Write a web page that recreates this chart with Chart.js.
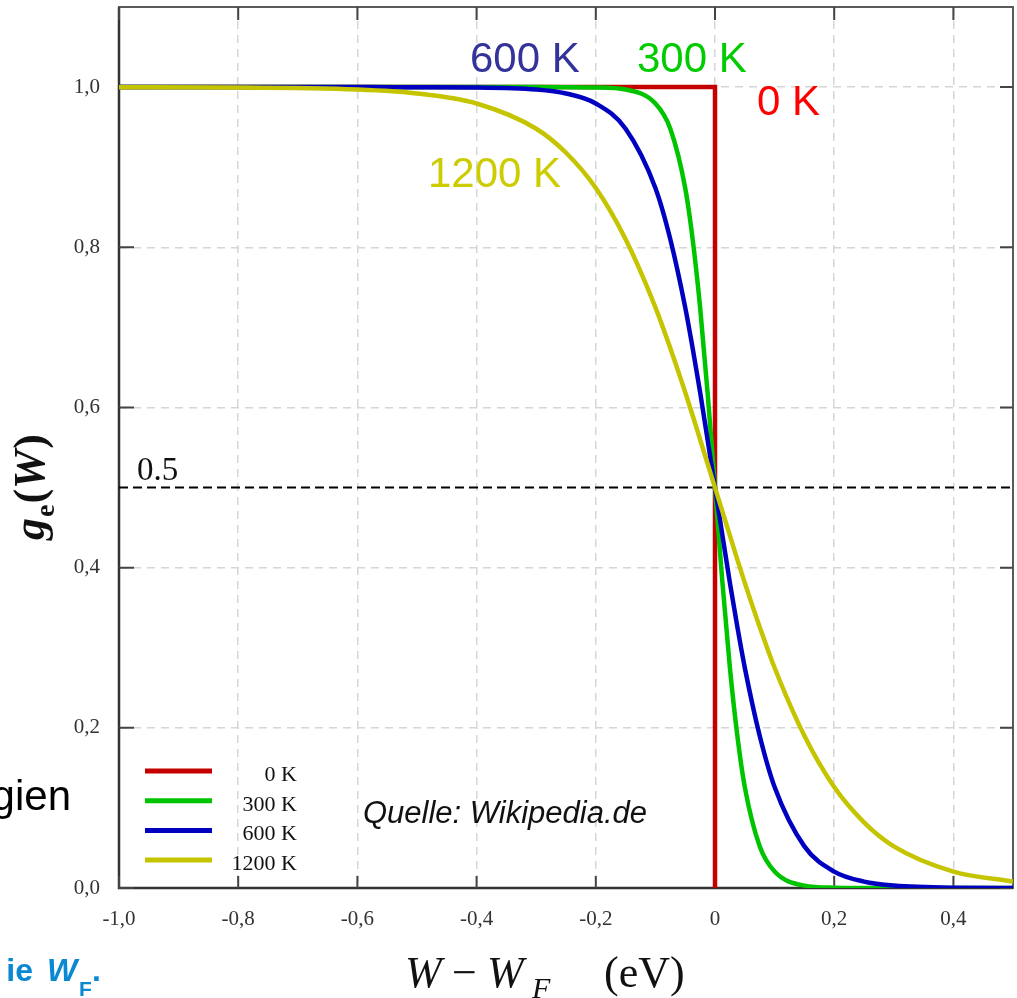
<!DOCTYPE html>
<html>
<head>
<meta charset="utf-8">
<script src="https://cdn.jsdelivr.net/npm/chart.js@4.4.1/dist/chart.umd.min.js"></script>
<style>
  html, body { margin: 0; padding: 0; background: #fff; }
  #wrap { position: relative; width: 1017px; height: 998px; }
</style>
</head>
<body>
<div id="wrap"><canvas id="c" width="1017" height="998"></canvas></div>
<script>
// Energy relative to the Fermi level (eV)
const energy = [-1.0, -0.8, -0.6, -0.5, -0.4, -0.3, -0.25, -0.2, -0.15, -0.1, -0.075, -0.05, -0.0375, -0.025, -0.0125,
                0, 0.0125, 0.025, 0.0375, 0.05, 0.075, 0.1, 0.15, 0.2, 0.25, 0.3, 0.4, 0.5];

// Occupation probability g_e(W) for each temperature
const occ300  = [1.0, 1.0, 1.0, 1.0, 1.0, 1.0, 0.9999, 0.9996, 0.997, 0.9795, 0.948, 0.874, 0.810, 0.725, 0.619,
                 0.5, 0.381, 0.275, 0.190, 0.126, 0.052, 0.0205, 0.003, 0.0004, 0.0001, 0, 0, 0];
const occ600  = [1.0, 1.0, 1.0, 0.9999, 0.9996, 0.997, 0.992, 0.9795, 0.948, 0.874, 0.810, 0.725, 0.674, 0.619, 0.560,
                 0.5, 0.440, 0.381, 0.326, 0.275, 0.190, 0.126, 0.052, 0.0205, 0.008, 0.003, 0.0004, 0.0001];
const occ1200 = [0.9999, 0.9996, 0.997, 0.992, 0.9795, 0.948, 0.918, 0.874, 0.810, 0.725, 0.674, 0.619, 0.590, 0.560, 0.530,
                 0.5, 0.470, 0.440, 0.410, 0.381, 0.326, 0.275, 0.190, 0.126, 0.082, 0.052, 0.0205, 0.008];

// Step function at absolute zero
const energy0K = [-1.0, 0, 0];
const occ0K    = [1, 1, 0];

const seriesLabels = ['0 K', '300 K', '600 K', '1200 K'];
const xTicks = [-1.0, -0.8, -0.6, -0.4, -0.2, 0, 0.2, 0.4];
const yTicks = [0, 0.2, 0.4, 0.6, 0.8, 1.0];
const halfLevel = 0.5;

const toPoints = (xs, ys) => xs.map((v, i) => ({ x: v, y: ys[i] }));
const xFmt = v => (Math.abs(v) < 1e-9 ? '0' : v.toFixed(1).replace('.', ','));
const yFmt = v => v.toFixed(1).replace('.', ',');

const SERIF = '"Liberation Serif", "Times New Roman", serif';
const SANS = '"Liberation Sans", Arial, sans-serif';

// Plot frame with inward tick marks
const framePlugin = {
  id: 'frame',
  beforeDatasetsDraw(chart) {
    const { ctx, chartArea: { left, right, top, bottom }, scales: { x, y } } = chart;
    ctx.save();
    ctx.strokeStyle = '#5a5a5a';
    ctx.lineWidth = 2;
    ctx.strokeRect(left, top, right - left, bottom - top);
    ctx.strokeStyle = '#333';
    ctx.lineWidth = 2.5;
    ctx.beginPath();
    ctx.moveTo(left, top); ctx.lineTo(left, bottom); ctx.lineTo(right, bottom);
    ctx.stroke();
    ctx.strokeStyle = '#444';
    ctx.lineWidth = 2;
    ctx.beginPath();
    xTicks.forEach(v => {
      const px = x.getPixelForValue(v);
      ctx.moveTo(px, top); ctx.lineTo(px, top + 13);
      ctx.moveTo(px, bottom); ctx.lineTo(px, bottom - 12);
    });
    yTicks.forEach(v => {
      const py = y.getPixelForValue(v);
      ctx.moveTo(left, py); ctx.lineTo(left + 15, py);
      ctx.moveTo(right, py); ctx.lineTo(right - 13, py);
    });
    ctx.stroke();
    ctx.restore();
  }
};

// Legend, curve labels, axis titles and surrounding text
const textPlugin = {
  id: 'texts',
  afterDatasetsDraw(chart) {
    const { ctx, scales: { x, y } } = chart;
    ctx.save();

    // legend inside the plot, bottom-left
    ctx.textAlign = 'right';
    ctx.textBaseline = 'alphabetic';
    ctx.font = '22px ' + SERIF;
    seriesLabels.forEach((lab, i) => {
      const ds = chart.data.datasets[i];
      const ly = 771 + i * 29.7;
      ctx.strokeStyle = ds.borderColor;
      ctx.lineWidth = 5;
      ctx.beginPath(); ctx.moveTo(145, ly); ctx.lineTo(212, ly); ctx.stroke();
      ctx.fillStyle = '#111';
      ctx.fillText(lab, 297, ly + 10);
    });

    // curve labels
    ctx.textAlign = 'left';
    ctx.font = '42px ' + SANS;
    ctx.fillStyle = '#333399'; ctx.fillText('600 K', 470, 72);
    ctx.fillStyle = '#00cc00'; ctx.fillText('300 K', 637, 72);
    ctx.fillStyle = '#ff0000'; ctx.fillText('0 K', 757, 115);
    ctx.fillStyle = '#cccc00'; ctx.fillText('1200 K', 428, 187);

    // source note
    ctx.font = 'italic 31px ' + SANS;
    ctx.fillStyle = '#111';
    ctx.fillText('Quelle: Wikipedia.de', 363, 823);

    // half-occupation label
    ctx.font = '33px ' + SERIF;
    ctx.fillStyle = '#111';
    ctx.fillText('0.5', 137, y.getPixelForValue(halfLevel) - 8);

    // x axis title: W − W_F   (eV)
    ctx.fillStyle = '#111';
    ctx.font = 'italic 44px ' + SERIF;
    ctx.fillText('W', 405, 987);
    ctx.font = '44px ' + SERIF;
    ctx.fillText('\u2212', 452, 987);
    ctx.font = 'italic 44px ' + SERIF;
    ctx.fillText('W', 487, 987);
    ctx.font = 'italic 30px ' + SERIF;
    ctx.fillText('F', 532, 998);
    ctx.font = '44px ' + SERIF;
    ctx.fillText('(eV)', 604, 987);

    // y axis title: g_e(W), rotated
    ctx.save();
    ctx.translate(44, 540);
    ctx.rotate(-Math.PI / 2);
    let cx = 0;
    ctx.font = 'bold italic 44px ' + SERIF;
    ctx.fillText('g', cx, 0); cx += ctx.measureText('g').width + 1;
    ctx.font = 'bold 28px ' + SERIF;
    ctx.fillText('e', cx, 10); cx += ctx.measureText('e').width + 1;
    ctx.font = 'bold 44px ' + SERIF;
    ctx.fillText('(', cx, 0); cx += ctx.measureText('(').width;
    ctx.font = 'bold italic 44px ' + SERIF;
    ctx.fillText('W', cx, 0); cx += ctx.measureText('W').width + 1;
    ctx.font = 'bold 44px ' + SERIF;
    ctx.fillText(')', cx, 0);
    ctx.restore();

    // surrounding slide text
    ctx.fillStyle = '#000';
    ctx.textAlign = 'right';
    ctx.font = '42px ' + SANS;
    ctx.fillText('gien', 71, 810);

    ctx.fillStyle = '#0a88d2';
    ctx.font = 'bold 32px ' + SANS;
    ctx.textAlign = 'right';
    ctx.fillText('ie', 33, 981);
    ctx.textAlign = 'left';
    ctx.font = 'bold italic 32px ' + SANS;
    ctx.fillText('W', 47, 981);
    ctx.font = 'bold 21px ' + SANS;
    ctx.fillText('F', 79, 996);
    ctx.font = 'bold 32px ' + SANS;
    ctx.fillText('.', 92, 981);

    ctx.restore();
  }
};

const curve = (label, xs, ys, color, order, smooth) => ({
  label,
  data: toPoints(xs, ys),
  borderColor: color,
  backgroundColor: color,
  borderWidth: 4.5,
  pointRadius: 0,
  fill: false,
  order,
  tension: 0,
  cubicInterpolationMode: smooth ? 'monotone' : 'default',
  borderCapStyle: 'butt',
  borderJoinStyle: 'miter'
});

new Chart(document.getElementById('c'), {
  type: 'line',
  data: {
    datasets: [
      curve(seriesLabels[0], energy0K, occ0K, '#c40000', 4, false),
      curve(seriesLabels[1], energy, occ300, '#00c400', 3, true),
      curve(seriesLabels[2], energy, occ600, '#0000c0', 2, true),
      curve(seriesLabels[3], energy, occ1200, '#c4c400', 1, true),
      {
        label: 'half',
        data: toPoints([-1.0, 0.5], [halfLevel, halfLevel]),
        borderColor: '#000',
        borderWidth: 2,
        borderDash: [9, 5],
        pointRadius: 0,
        fill: false,
        order: 5
      }
    ]
  },
  options: {
    responsive: false,
    animation: false,
    devicePixelRatio: 1,
    layout: { padding: { left: 0, top: 7, right: 4, bottom: 0 } },
    plugins: { legend: { display: false }, tooltip: { enabled: false } },
    scales: {
      x: {
        type: 'linear',
        min: -1.0,
        max: 0.5,
        afterBuildTicks: s => { s.ticks = xTicks.map(v => ({ value: v })); },
        afterFit: s => { s.height = 110; s.paddingLeft = 0; s.paddingRight = 0; },
        ticks: {
          callback: v => xFmt(v),
          font: { family: SERIF, size: 21 },
          color: '#333',
          padding: 19,
          maxRotation: 0
        },
        grid: { color: '#d6d6d6', lineWidth: 1.5, drawTicks: false },
        border: { display: false, dash: [8, 6] }
      },
      y: {
        type: 'linear',
        min: 0,
        max: 1.1,
        afterBuildTicks: s => { s.ticks = yTicks.map(v => ({ value: v })); },
        afterFit: s => { s.width = 119; s.paddingTop = 0; s.paddingBottom = 0; },
        ticks: {
          callback: v => yFmt(v),
          font: { family: SERIF, size: 21 },
          color: '#333',
          padding: 19
        },
        grid: { color: '#d6d6d6', lineWidth: 1.5, drawTicks: false },
        border: { display: false, dash: [8, 6] }
      }
    }
  },
  plugins: [framePlugin, textPlugin]
});
</script>
</body>
</html>
